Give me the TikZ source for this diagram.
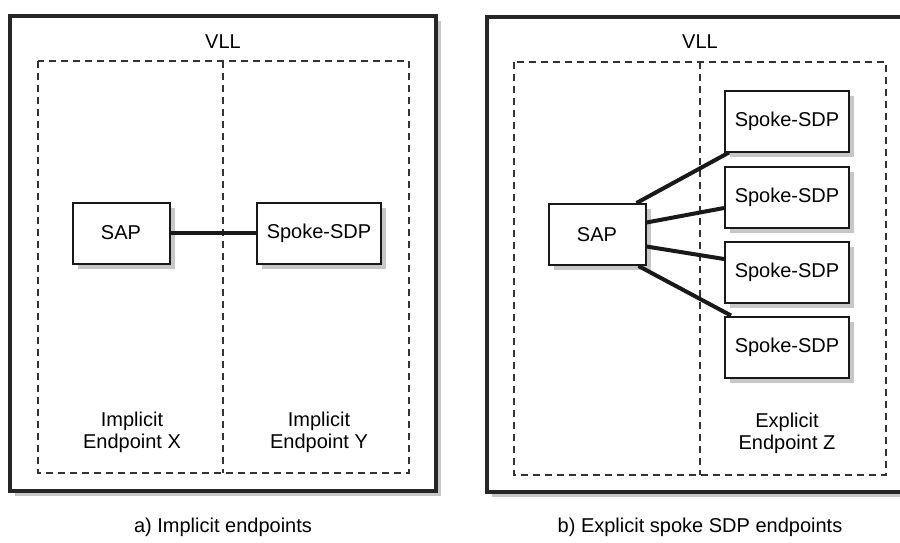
\documentclass[tikz,border=0pt]{standalone}
\usepackage{fontspec}
\setmainfont{Liberation Sans}
\usetikzlibrary{calc}
\tikzset{
  px/.style={x=1pt,y=-1pt},
  shadowfill/.style={fill=black!22,draw=none},
  outerbox/.style={draw=black!85,line width=3.6pt},
  dashbox/.style={draw=black!80,line width=1.8pt,dash pattern=on 7pt off 5pt},
  elem/.style={draw=black!90,fill=white,line width=2pt,minimum width=#1,minimum height=61pt,inner sep=0pt,font=\fontsize{20}{22}\selectfont},
  elem/.default=97pt,
  spoke/.style={elem=124pt},
  conn/.style={draw=black!90,line width=4pt},
  lbl/.style={align=center,font=\fontsize{20}{22}\selectfont,inner sep=0pt},
  shadowed/.style={preaction={shadowfill,draw=none,transform canvas={xshift=5pt,yshift=-5pt}}}
}
\begin{document}
\begin{tikzpicture}[px]
\useasboundingbox (0,0) rectangle (900,542);
\clip (0,0) rectangle (900,542);
% ---------- panel a ----------
\fill[shadowfill] (15,21) rectangle (441,496);
\draw[outerbox,fill=white] (10,16) rectangle (436,491);
\node[lbl] (vlla) at (223,42) {VLL};
\draw[dashbox] (38,61) rectangle (409,473);
\draw[dashbox] (223,61) -- (223,473);
\node[elem,shadowed] (sapa) at (121,233) {SAP};
\node[spoke,shadowed] (spa) at (319,233) {Spoke-SDP};
\draw[conn] (sapa) -- (spa);
\node[lbl] (epx) at (132,432) {Implicit\\Endpoint X};
\node[lbl] (epy) at (319,432) {Implicit\\Endpoint Y};
\node[lbl] (capa) at (223,527) {a) Implicit endpoints};
% ---------- panel b ----------
\fill[shadowfill] (492,22) rectangle (920,497);
\draw[outerbox,fill=white] (487,17) rectangle (915,492);
\node[lbl] (vllb) at (700,42) {VLL};
\draw[dashbox] (514,62) rectangle (886,475);
\draw[dashbox] (700,62) -- (700,475);
\node[elem,shadowed] (sapb) at (597,234.5) {SAP};
\node[spoke,shadowed] (s1) at (787,121) {Spoke-SDP};
\node[spoke,shadowed] (s2) at (787,197) {Spoke-SDP};
\node[spoke,shadowed] (s3) at (787,272) {Spoke-SDP};
\node[spoke,shadowed] (s4) at (787,347) {Spoke-SDP};
\draw[conn] ([xshift=-10pt]sapb.north east) -- ([xshift=5pt]s1.south west);
\draw[conn] ([yshift=12pt]sapb.east) -- ([yshift=-11pt]s2.west);
\draw[conn] ([yshift=-12pt]sapb.east) -- ([yshift=13pt]s3.west);
\draw[conn] ([xshift=-8pt]sapb.south east) -- ([xshift=7pt]s4.north west);
\node[lbl] (epz) at (787,433) {Explicit\\Endpoint Z};
\node[lbl] (capb) at (700,527) {b) Explicit spoke SDP endpoints};
\end{tikzpicture}
\end{document}
